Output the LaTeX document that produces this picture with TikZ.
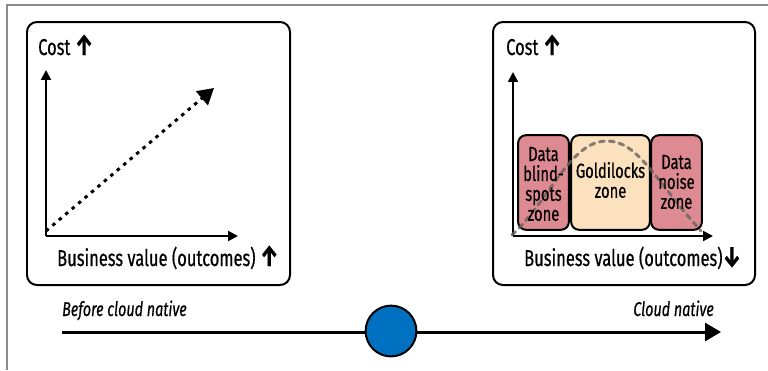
\documentclass[tikz,border=0pt]{standalone}
\usepackage{fontspec}
\setmainfont{Fira Sans}[FakeStretch=0.72, FakeBold=0.6]
\usetikzlibrary{arrows.meta}
\definecolor{zonered}{RGB}{221,138,146}
\definecolor{zonepeach}{RGB}{252,225,190}
\definecolor{dotblue}{RGB}{0,112,192}
\definecolor{framegray}{RGB}{140,140,140}
\definecolor{curvegray}{RGB}{105,98,92}
\newcommand{\bigarrow}[1]{{\fontsize{29}{29}\selectfont\bfseries #1}}
\tikzset{
  panel/.style={draw=black, line width=2pt, rounded corners=10pt},
  axis/.style={line width=2pt, -{Triangle[length=10pt,width=10pt]}},
  label/.style={inner sep=0pt, font=\fontsize{23}{25}\selectfont},
  zonebox/.style={draw=black, line width=2pt, rounded corners=8pt, inner sep=0pt},
  zonetext/.style={inner sep=0pt, align=center, font=\fontsize{20.5}{20}\selectfont},
  stage/.style={inner sep=0pt, font=\fontsize{20}{22}\selectfont\itshape},
}
\begin{document}
\begin{tikzpicture}[x=1bp, y=-1bp]
\useasboundingbox (0,0) rectangle (768,370);
% outer frame edges
\draw[framegray, line width=1.2pt] (7,370) -- (7,5) -- (768,5);

% left panel: cost grows with value
\draw[panel] (27,22) rectangle (290,285);
\coordinate (o1) at (46,236);
\coordinate (y1) at (46,70);
\coordinate (x1) at (238,236);
\draw[axis] (o1) -- (y1);
\draw[axis] (o1) -- (x1);
\coordinate (d1s) at (46,231);
\coordinate (d1e) at (214,88);
\draw[line width=3pt, dash pattern=on 3.5pt off 5pt,
      -{Triangle[length=16pt,width=18pt]}] (d1s) -- (d1e);
\node[label, anchor=base west] (c1) at (38,55) {Cost \bigarrow{↑}};
\node[label, anchor=base west] (b1) at (57,266) {Business value (outcomes) \bigarrow{↑}};

% right panel: zones
\draw[panel] (493,22) rectangle (755,285);
\coordinate (o2) at (513,236);
\coordinate (y2) at (513,72);
\coordinate (x2) at (713,236);
\draw[axis] (o2) -- (y2);
\draw[axis] (o2) -- (x2);
\node[zonebox, fill=zonered, minimum width=51pt, minimum height=95pt] (zb) at (543.5,182.5) {};
\node[zonebox, fill=zonepeach, minimum width=79pt, minimum height=95pt] (zg) at (610.5,182.5) {};
\node[zonebox, fill=zonered, minimum width=51pt, minimum height=95pt] (zn) at (676.5,182.5) {};
\coordinate (cs) at (512,235);
\coordinate (cp) at (607,141);
\coordinate (ce) at (701,231);
\draw[curvegray, opacity=0.8, line width=3pt, dash pattern=on 5pt off 5pt, line cap=round]
  (cs) .. controls (550,200) and (570,141) .. (cp)
       .. controls (638,141) and (655,180) .. (ce);
\node[zonetext] (tb) at (543.5,184) {Data\\blind-\\spots\\zone};
\node[zonetext] (tg) at (610.5,180) {Goldilocks\\zone};
\node[zonetext] (tn) at (676.5,182) {Data\\noise\\zone};
\node[label, anchor=base west] (c2) at (506,55) {Cost \bigarrow{↑}};
\node[label, anchor=base west] (b2) at (524,266) {Business value (outcomes)\bigarrow{↓}};

% timeline
\coordinate (ts) at (62,332);
\coordinate (te) at (721,332);
\draw[line width=3pt, -{Triangle[length=16pt,width=18pt]}] (ts) -- (te);
\node[draw=black, line width=2pt, fill=dotblue, circle, minimum size=51pt, inner sep=0pt] (now) at (391,331) {};
\node[stage, anchor=base west] (before) at (62,316) {Before cloud native};
\node[stage, anchor=base east] (after) at (714,316) {Cloud native};
\end{tikzpicture}
\end{document}
